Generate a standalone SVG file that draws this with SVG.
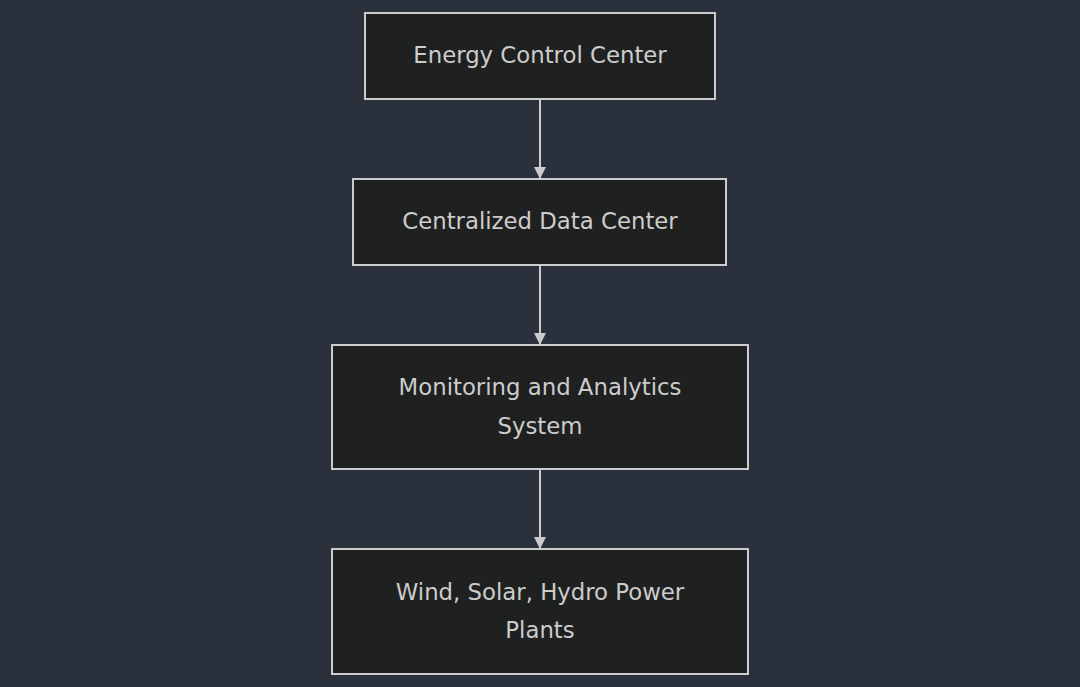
<svg xmlns="http://www.w3.org/2000/svg" width="1080" height="687" viewBox="0 0 1080 687">
<defs>
<style>
.node rect{fill:#1f2020;stroke:#cccccc;stroke-width:2}
.node text{font-family:"DejaVu Sans","Liberation Sans",sans-serif;font-size:22.8px;fill:#cccccc;text-anchor:middle}
.edge{stroke:#cccccc;stroke-width:2;fill:none}
</style>
<marker id="arrow" viewBox="0 0 10 10" refX="10" refY="5" markerWidth="12" markerHeight="12" markerUnits="userSpaceOnUse" orient="auto">
<path d="M0,0 L10,5 L0,10 z" fill="#cccccc"/>
</marker>
</defs>
<rect width="1080" height="687" fill="#2b303d"/>
<g id="connectors">
<path class="edge" d="M540,99 L540,179" marker-end="url(#arrow)"/>
<path class="edge" d="M540,265 L540,345" marker-end="url(#arrow)"/>
<path class="edge" d="M540,469 L540,549" marker-end="url(#arrow)"/>
</g>
<g id="node1" class="node">
<rect x="365" y="13" width="350" height="86"/>
<text x="540" y="63">Energy Control Center</text>
</g>
<g id="node2" class="node">
<rect x="353" y="179" width="373" height="86"/>
<text x="540" y="229">Centralized Data Center</text>
</g>
<g id="node3" class="node">
<rect x="332" y="345" width="416" height="124"/>
<text x="540" y="395">Monitoring and Analytics</text>
<text x="540" y="434">System</text>
</g>
<g id="node4" class="node">
<rect x="332" y="549" width="416" height="125"/>
<text x="540" y="600">Wind, Solar, Hydro Power</text>
<text x="540" y="638">Plants</text>
</g>
</svg>
